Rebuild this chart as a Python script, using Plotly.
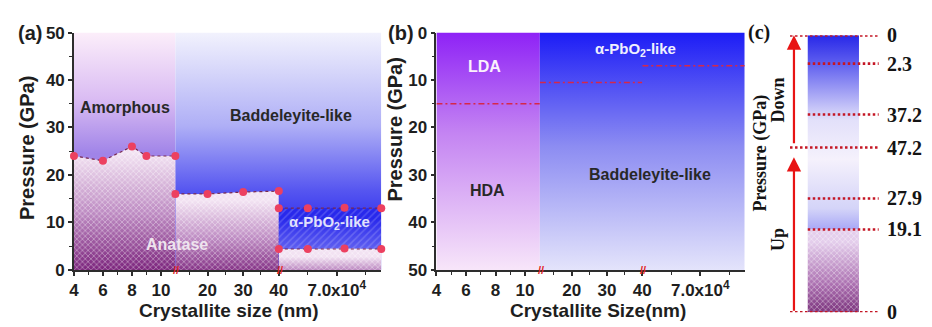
import plotly.graph_objects as go

W, H = 932, 327

# ---------------- data ----------------
# Panel (a) compression: transition pressures (GPa) vs crystallite size, per broken-axis segment
a_size_seg1 = [4, 6, 8, 9, 11]
a_anatase_seg1 = [24.0, 23.0, 26.0, 24.0, 24.0]
a_size_seg2 = [11, 20, 30, 40]
a_anatase_seg2 = [16.0, 16.0, 16.4, 16.6]
a_size_seg3 = [40000, 55000, 74000, 93000]
a_pbo2_seg3 = [13.0, 13.0, 13.1, 13.0]
a_anatase_seg3 = [4.4, 4.4, 4.5, 4.4]

# Panel (b) decompression: transition pressures (GPa)
b_size_seg1 = [4, 11]
b_lda_hda = [15.0, 15.0]
b_size_seg2 = [11, 40]
b_pbo2_badd_seg2 = [10.5, 10.5]
b_size_seg3 = [40000, 93000]
b_pbo2_badd_seg3 = [7.0, 7.0]

# Panel (c) pressure path labels (top to bottom)
c_labels = ["0", "2.3", "37.2", "47.2", "27.9", "19.1", "0"]

# axis ticks
seg1_ticks = [4, 6, 8, 10]
seg2_ticks = [20, 30, 40]
seg3_ticks = [70000]
seg3_ticktext = ["7.0x10<sup>4</sup>"]
p_ticks = [0, 10, 20, 30, 40, 50]

# ---------------- layout helpers ----------------
def fx(x):
    return x / W

def fy(y):
    return 1 - y / H

SANS = "Liberation Sans, Arial, sans-serif"
SERIF = "Liberation Serif, Times New Roman, serif"
AXC = "rgb(45,45,45)"

seg1_rng = [3.999, 11]
seg2_rng = [11, 40.001]
seg3_rng = [40000, 93000]
P_MAX = 50

plot_y = [fy(277), fy(25)]
a_dom = [[fx(70), fx(173)], [fx(173), fx(278)], [fx(278), fx(382)]]
b_dom = [[fx(438), fx(543)], [fx(543), fx(647)], [fx(647), fx(751)]]
c_xdom = [fx(790), fx(890)]
c_ydom = [fy(322), fy(28)]
# schematic vertical positions of the pressure levels in panel (c), 0..1 bottom->top
c_level_pos = [1.0, 0.898, 0.714, 0.595, 0.411, 0.299, 0.0]

def split_frac(dom):
    return (dom[0][1] - dom[0][0]) / (dom[2][1] - dom[0][0])

traces = []

def poly(x, y, xa, ya, fill, cs, start, stop, pattern=None):
    traces.append(go.Scatter(x=x, y=y, xaxis=xa, yaxis=ya, mode="none", fill=fill,
                             fillgradient=dict(type="vertical", colorscale=cs, start=start, stop=stop),
                             hoverinfo="skip", showlegend=False))
    if pattern is not None:
        traces.append(go.Scatter(x=x, y=y, xaxis=xa, yaxis=ya, mode="none", fill=fill,
                                 fillcolor="rgba(0,0,0,0)", fillpattern=pattern,
                                 hoverinfo="skip", showlegend=False))

def rect(rx, ry, xa, ya, cs, start, stop, pattern=None):
    poly([rx[0], rx[1], rx[1], rx[0], rx[0]], [ry[0], ry[0], ry[1], ry[1], ry[0]],
         xa, ya, "toself", cs, start, stop, pattern)

checker = dict(shape="x", fgcolor="white", fgopacity=0.45, size=4, solidity=0.35)
stripes = dict(shape="/", fgcolor="white", fgopacity=0.18, size=5, solidity=0.3)

amorph_cs = [[0, "rgb(252,238,250)"], [0.55, "rgb(218,188,243)"], [1, "rgb(160,132,232)"]]
badd_a_cs = [[0, "rgb(242,242,253)"], [0.5, "rgb(175,175,246)"], [0.85, "rgb(85,85,240)"], [1, "rgb(55,55,238)"]]
anat_cs = [[0, "rgb(242,226,242)"], [0.45, "rgb(190,140,195)"], [1, "rgb(108,12,108)"]]
pbo2_cs = [[0, "rgb(40,40,236)"], [1, "rgb(120,120,242)"]]

# ---- panel (a) ----  background drawn on a hidden full-width axis (x), segments on x2..x4
fa = split_frac(a_dom)
rect([0, fa], [0, P_MAX], "x", "y", amorph_cs, P_MAX, max(a_anatase_seg1))
rect([fa, 1], [0, P_MAX], "x", "y", badd_a_cs, P_MAX, min(a_pbo2_seg3))
poly(a_size_seg1, a_anatase_seg1, "x2", "y", "tozeroy", anat_cs, max(a_anatase_seg1), 0, checker)
poly(a_size_seg2, a_anatase_seg2, "x3", "y", "tozeroy", anat_cs, max(a_anatase_seg2), 0, checker)
poly(a_size_seg3, a_pbo2_seg3, "x4", "y", "tozeroy", pbo2_cs, max(a_pbo2_seg3), min(a_anatase_seg3), stripes)
poly(a_size_seg3, a_anatase_seg3, "x4", "y", "tozeroy", anat_cs, max(a_anatase_seg3) + 1, 0, checker)

mk = dict(color="rgb(236,64,96)", size=8)
ln = dict(color="rgb(120,40,80)", width=1.2, dash="dot")
for xs, ys, xa in [(a_size_seg1, a_anatase_seg1, "x2"), (a_size_seg2, a_anatase_seg2, "x3"),
                   (a_size_seg3, a_pbo2_seg3, "x4"), (a_size_seg3, a_anatase_seg3, "x4")]:
    traces.append(go.Scatter(x=xs, y=ys, xaxis=xa, yaxis="y", mode="lines+markers",
                             marker=mk, line=ln, cliponaxis=False, hoverinfo="skip", showlegend=False))

# ---- panel (b) ----  background on hidden axis x5, segments on x6..x8
fb = split_frac(b_dom)
amorph_b_cs = [[0, "rgb(142,34,246)"], [0.4, "rgb(196,132,242)"], [1, "rgb(253,240,250)"]]
badd_b_cs = [[0, "rgb(28,28,246)"], [0.45, "rgb(140,140,242)"], [1, "rgb(238,238,252)"]]
rect([0, fb], [0, P_MAX], "x5", "y2", amorph_b_cs, 0, P_MAX)
rect([fb, 1], [0, P_MAX], "x5", "y2", badd_b_cs, 0, P_MAX)
dl = dict(color="rgb(214,40,72)", width=1.5, dash="6px,3px,2px,3px")
for xs, ys, xa in [(b_size_seg1, b_lda_hda, "x6"), (b_size_seg2, b_pbo2_badd_seg2, "x7"),
                   (b_size_seg3, b_pbo2_badd_seg3, "x8")]:
    traces.append(go.Scatter(x=xs, y=ys, xaxis=xa, yaxis="y2", mode="lines", line=dl,
                             hoverinfo="skip", showlegend=False))

# ---- panel (c) ----
bar_x = [25, 77]
c_bar_cs = [[0, "rgb(40,40,232)"], [0.12, "rgb(88,88,238)"], [0.41, "rgb(226,224,250)"],
            [0.6, "rgb(245,241,252)"], [0.84, "rgb(212,212,248)"], [1, "rgb(142,142,245)"]]
c_anat_cs = [[0, "rgb(228,206,236)"], [0.5, "rgb(170,110,175)"], [1, "rgb(95,18,95)"]]
rect(bar_x, [c_level_pos[5], c_level_pos[0]], "x9", "y3", c_bar_cs, c_level_pos[0], c_level_pos[5])
rect(bar_x, [c_level_pos[6], c_level_pos[5]], "x9", "y3", c_anat_cs, c_level_pos[5], c_level_pos[6], checker)
cdot = dict(color="rgb(196,22,36)", width=2.6, dash="2.5px,2.5px")
for i, pos in enumerate(c_level_pos):
    x0 = 7 if i in (0, 3, 6) else 25
    traces.append(go.Scatter(x=[x0, 97], y=[pos, pos], xaxis="x9", yaxis="y3", mode="lines",
                             line=cdot, cliponaxis=False, hoverinfo="skip", showlegend=False))

fig = go.Figure(traces)

ax = dict(showgrid=False, zeroline=False, showline=True, linecolor=AXC, linewidth=1.5,
          ticks="outside", ticklen=4, tickwidth=1.5, tickcolor=AXC,
          tickfont=dict(family=SANS, size=17, color="rgb(30,30,30)", weight="bold"))

def xseg(dom, rng, tv, tt, minor, anchor):
    d = dict(ax, domain=dom, range=rng, tickmode="array", tickvals=tv, anchor=anchor,
             minor=dict(tickvals=minor, ticks="outside", ticklen=3, tickwidth=1.2, tickcolor=AXC))
    if tt is not None:
        d["ticktext"] = tt
    return d

def bgaxis(dom, anchor):
    return dict(domain=[dom[0][0], dom[2][1]], range=[0, 1], anchor=anchor, visible=False,
                showgrid=False, zeroline=False)

ymin = dict(tickvals=[5, 15, 25, 35, 45], ticks="outside", ticklen=3, tickwidth=1.2, tickcolor=AXC)
m1, m2, m3 = [5, 7, 9], [15, 25, 35], [55000, 85000]
fig.update_layout(
    width=W, height=H, margin=dict(l=0, r=0, t=0, b=0),
    paper_bgcolor="white", plot_bgcolor="rgba(0,0,0,0)",
    xaxis=bgaxis(a_dom, "y"),
    xaxis2=xseg(a_dom[0], seg1_rng, seg1_ticks, None, m1, "y"),
    xaxis3=xseg(a_dom[1], seg2_rng, seg2_ticks, None, m2, "y"),
    xaxis4=xseg(a_dom[2], seg3_rng, seg3_ticks, seg3_ticktext, m3, "y"),
    xaxis5=bgaxis(b_dom, "y2"),
    xaxis6=xseg(b_dom[0], seg1_rng, seg1_ticks, None, m1, "y2"),
    xaxis7=xseg(b_dom[1], seg2_rng, seg2_ticks, None, m2, "y2"),
    xaxis8=xseg(b_dom[2], seg3_rng, seg3_ticks, seg3_ticktext, m3, "y2"),
    yaxis=dict(ax, domain=plot_y, range=[0, P_MAX], anchor="x", tickmode="array", tickvals=p_ticks,
               minor=ymin),
    yaxis2=dict(ax, domain=plot_y, range=[P_MAX, 0], anchor="x5", tickmode="array", tickvals=p_ticks,
                minor=ymin),
    xaxis9=dict(domain=c_xdom, range=[0, 100], anchor="y3", visible=False),
    yaxis3=dict(domain=c_ydom, range=[0, 1], anchor="x9", visible=False),
)

ann = []
def txt(x, y, s, size=16, color="rgb(40,40,40)", family=SANS, angle=0, xanchor="center", weight="bold"):
    ann.append(dict(x=fx(x), y=fy(y), xref="paper", yref="paper", text=s, showarrow=False,
                    xanchor=xanchor, yanchor="middle", textangle=angle,
                    font=dict(family=family, size=size, color=color, weight=weight)))

# panel labels & titles
txt(25, 25, "(a)", 20, "rgb(30,30,30)")
txt(402, 25, "(b)", 20, "rgb(30,30,30)")
txt(766, 25, "(c)", 20, "rgb(20,20,20)", SERIF)
txt(23, 147, "Pressure (GPa)", 20, "rgb(30,30,30)", angle=-90)
txt(396, 128, "Pressure (GPa)", 20, "rgb(30,30,30)", angle=-90)
txt(227, 320, "Crystallite size (nm)", 19, "rgb(30,30,30)")
txt(602, 320, "Crystallite Size(nm)", 19, "rgb(30,30,30)")
# region labels (a)
txt(122, 105, "Amorphous", 16, "rgb(40,40,40)")
txt(290, 113, "Baddeleyite-like", 16, "rgb(40,40,40)")
txt(175, 250, "Anatase", 16, "rgb(238,228,238)")
txt(329, 227, "α-PbO<sub>2</sub>-like", 15, "rgb(225,225,252)")
# region labels (b)
txt(487, 61, "LDA", 16, "rgb(250,240,252)")
txt(490, 193, "HDA", 16, "rgb(40,40,40)")
txt(640, 43, "α-PbO<sub>2</sub>-like", 15, "rgb(240,240,255)")
txt(655, 176, "Baddeleyite-like", 16, "rgb(40,40,40)")
# panel (c) side labels
txt(767, 153, "Pressure (GPa)", 18, "rgb(20,20,20)", SERIF, -90)
txt(785, 97, "Down", 18, "rgb(20,20,20)", SERIF, -90)
txt(785, 245, "Up", 18, "rgb(20,20,20)", SERIF, -90)
for lab, pos in zip(c_labels, c_level_pos):
    ann.append(dict(x=fx(893), y=pos, xref="paper", yref="y3", text=lab, showarrow=False,
                    xanchor="left", yanchor="middle",
                    font=dict(family=SERIF, size=20, color="rgb(20,20,20)", weight="bold")))
# arrows in panel (c)
for tail, tip in [(c_level_pos[6], c_level_pos[3] - 0.035), (c_level_pos[3] + 0.01, c_level_pos[0])]:
    ann.append(dict(x=11, y=tip, xref="x9", yref="y3", ax=11, ay=tail, axref="x9", ayref="y3",
                    showarrow=True, arrowhead=2, arrowsize=1.3, arrowwidth=2.2,
                    arrowcolor="rgb(232,20,20)", text=""))
# axis-break marks
for bx in (173, 278, 543, 647):
    txt(bx + 1, 277, "//", 11, "rgb(225,30,30)")

fig.update_layout(annotations=ann)
fig.write_html("out.html")
